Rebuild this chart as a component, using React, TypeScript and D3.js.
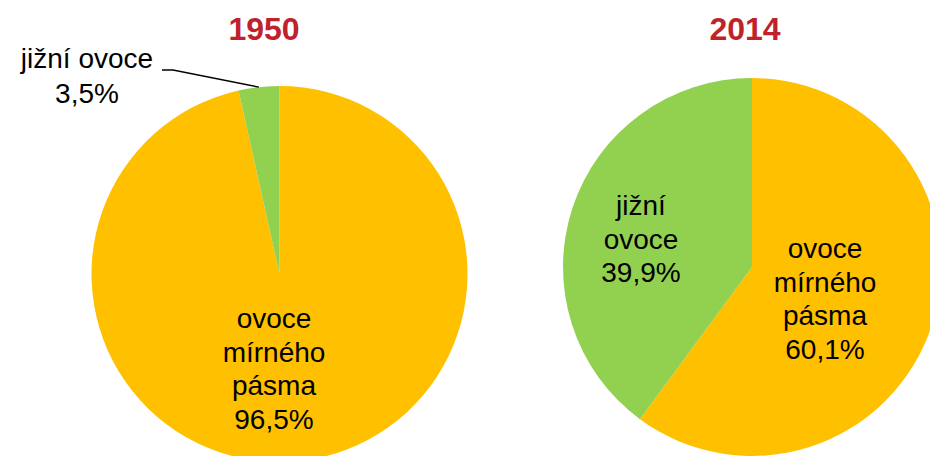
import React from "react";
import { pie, arc, format } from "d3";

const years = ["1950", "2014"];
const categories = ["ovoce mírného pásma", "jižní ovoce"];
const temperateShare = [96.5, 60.1];
const southernShare = [3.5, 39.9];
const sliceColors = ["#FFC000", "#92D050"];

// label text broken into lines, per pie and slice
const labelLines = [
  [["ovoce", "mírného", "pásma"], ["jižní ovoce"]],
  [["ovoce", "mírného", "pásma"], ["jižní", "ovoce"]],
];

// layout only (positions in px)
const layout = [
  {
    cx: 279.5,
    cy: 274,
    r: 188,
    titleX: 264,
    labels: [
      { x: 274, y: 328, outside: false },
      { x: 87, y: 68, outside: true },
    ],
  },
  {
    cx: 752,
    cy: 267,
    r: 189,
    titleX: 745,
    labels: [
      { x: 825, y: 258, outside: false },
      { x: 641, y: 215, outside: false },
    ],
  },
];

const pct = (v: number) => format(".1f")(v).replace(".", ",") + "%";
const font = "'Liberation Sans', Arial, sans-serif";

const Pie = ({ idx }: { idx: number }) => {
  const L = layout[idx];
  const values = [temperateShare[idx], southernShare[idx]];
  const slices = pie<number>().sort(null).value((d) => d)(values);
  const arcGen = arc<any>().innerRadius(0).outerRadius(L.r);
  const lineH = 33.5;

  return (
    <g>
      <text
        x={L.titleX}
        y={40}
        textAnchor="middle"
        fontFamily={font}
        fontWeight="bold"
        fontSize={32}
        fill="#C0222B"
      >
        {years[idx]}
      </text>
      <g transform={`translate(${L.cx},${L.cy})`}>
        {slices.map((s, i) => (
          <path key={categories[i]} d={arcGen(s) as string} fill={sliceColors[i]} />
        ))}
      </g>
      {slices.map((s, i) => {
        const pos = L.labels[i];
        const lines = [...labelLines[idx][i], pct(values[i])];
        let leader = null;
        if (pos.outside) {
          const mid = (s.startAngle + s.endAngle) / 2;
          const ex = L.cx + Math.sin(mid) * L.r;
          const ey = L.cy - Math.cos(mid) * L.r;
          leader = (
            <polyline
              points={`${pos.x + 75},${pos.y + 2} ${pos.x + 86},${pos.y + 2} ${ex},${ey}`}
              fill="none"
              stroke="#000"
              strokeWidth={1.5}
            />
          );
        }
        return (
          <g key={"lab" + i}>
            {leader}
            <text
              textAnchor="middle"
              fontFamily={font}
              fontSize={28}
              fill="#000"
            >
              {lines.map((t, j) => (
                <tspan key={j} x={pos.x} y={pos.y + j * (pos.outside ? 34.5 : lineH)}>
                  {t}
                </tspan>
              ))}
            </text>
          </g>
        );
      })}
    </g>
  );
};

export default function App() {
  return (
    <svg
      width={930}
      height={456}
      style={{ position: "absolute", left: 0, top: 0, display: "block", background: "#fff" }}
    >
      {years.map((y, i) => (
        <Pie key={y} idx={i} />
      ))}
    </svg>
  );
}
